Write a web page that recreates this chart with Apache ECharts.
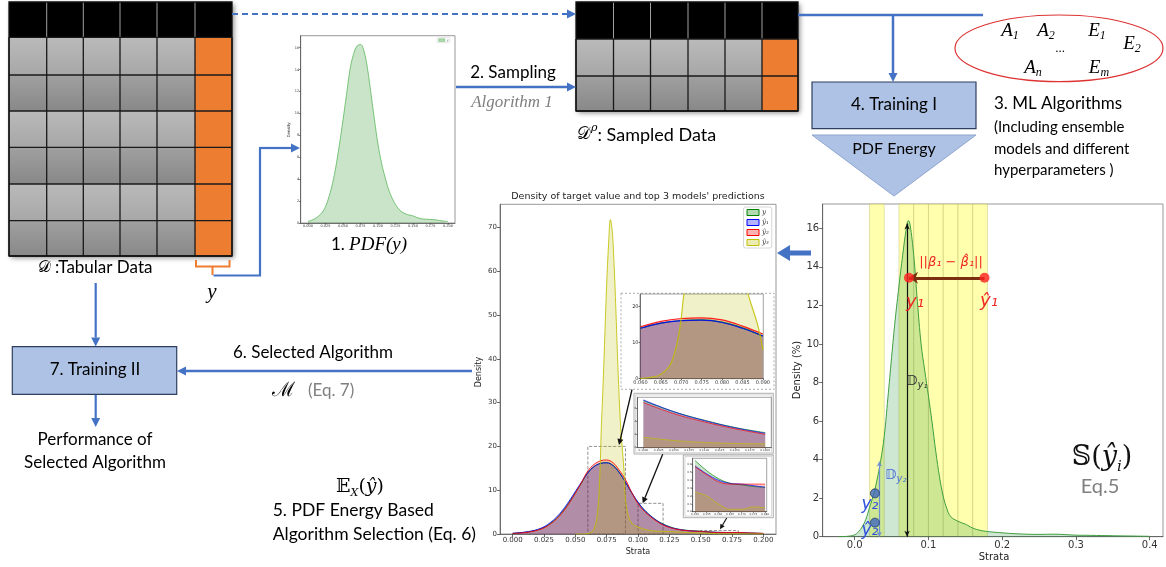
<!DOCTYPE html>
<html><head><meta charset="utf-8">
<script src="https://cdn.jsdelivr.net/npm/echarts@6/dist/echarts.min.js"></script>
<style>html,body{margin:0;padding:0;background:#fff}#c{width:1166px;height:567px}</style>
</head><body><div id="c"></div>
<script>
// ---------------- DATA ----------------
const strata = [0,0.005,0.01,0.015,0.02,0.025,0.03,0.035,0.04,0.045,0.05,0.055,0.06,0.065,0.07,0.075,0.08,0.085,0.09,0.095,0.1,0.105,0.11,0.115,0.12,0.125,0.13,0.135,0.14,0.145,0.15,0.155,0.16,0.165,0.17,0.175,0.18,0.185,0.19,0.195,0.2];
const densTarget = [0.15,0.25,0.4,0.62,0.95,1.5,2.4,3.6,5.2,7.2,9.4,11.7,14.0,15.4,16.15,16.3,15.7,14.1,11.8,9.4,7.2,5.5,4.2,3.1,2.3,1.7,1.25,0.98,0.82,0.72,0.65,0.52,0.42,0.36,0.34,0.32,0.31,0.26,0.21,0.17,0.13];
const densPred1 = [0.17,0.28,0.44,0.68,1.05,1.65,2.6,3.85,5.5,7.5,9.7,11.9,14.0,15.4,16.1,16.25,15.6,14.0,11.85,9.45,7.3,5.5,4.15,3.05,2.2,1.6,1.2,0.93,0.77,0.66,0.58,0.48,0.40,0.36,0.35,0.33,0.31,0.25,0.2,0.16,0.12];
const densPred2 = [0.12,0.2,0.34,0.55,0.88,1.4,2.25,3.45,5.0,7.0,9.3,11.8,14.4,15.9,16.7,16.9,16.3,14.6,12.4,9.5,6.9,5.2,3.95,2.9,2.05,1.5,1.12,0.88,0.74,0.64,0.57,0.47,0.38,0.35,0.35,0.35,0.35,0.28,0.22,0.17,0.13];
const strataPred3 = [0.05,0.055,0.06,0.0625,0.065,0.0675,0.0695,0.0707,0.072,0.0735,0.075,0.0765,0.078,0.0795,0.081,0.0825,0.084,0.0855,0.0865,0.0887,0.09,0.0925,0.095,0.0975,0.1,0.105,0.11,0.115,0.12,0.13,0.14,0.15,0.155,0.16,0.165,0.17,0.175,0.18,0.19,0.2];
const densPred3 = [0,0,0.1,0.4,1.2,4.3,13,24,33,45,57,66,71.8,69,61,50,38,28,23,15,8,4,2.5,1.9,1.6,1.1,0.8,0.65,0.6,0.5,0.35,0.25,0.2,0.1,0.03,0.03,0.06,0.05,0.03,0.02];
const sampleStrata = [-0.022,-0.01,0,0.005,0.01,0.015,0.02,0.025,0.03,0.035,0.04,0.045,0.05,0.055,0.06,0.065,0.07,0.0727,0.075,0.08,0.085,0.09,0.095,0.1,0.105,0.11,0.115,0.12,0.125,0.13,0.14,0.15,0.16,0.17,0.18,0.2,0.22,0.25,0.27,0.3,0.32,0.35,0.4];
const sampleDensity = [0,0.02,0.1,0.25,0.5,0.9,1.5,2.1,2.9,3.9,5.2,7.2,9.3,11.3,13.0,14.6,16.0,16.4,16.2,14.6,12.2,10.0,8.6,7.3,5.9,4.4,3.1,2.1,1.45,1.05,0.8,0.65,0.45,0.33,0.27,0.2,0.15,0.12,0.13,0.08,0.07,0.05,0.02];
const strataBins = [[0.02,0.04],[0.06,0.08],[0.08,0.10],[0.10,0.12],[0.12,0.14],[0.14,0.16],[0.16,0.18]];
const zoomBoxes = [[0.06,0.09,20],[0.10,0.12,7],[0.15,0.18,0.8]];
const y1True = [0.0735,13.43], y1Pred = [0.176,13.43];
const y2True = [0.0274,2.25], y2Pred = [0.0274,0.73];
const dY1 = [0.071,16.25], dY2 = [0.0334,3.9];
// tick labels
const ticksStrata = [0,0.025,0.05,0.075,0.1,0.125,0.15,0.175,0.2];
const ticksPdfY = [0,2,4,6,8,10,12,14,16];
const ticksMainY = [0,10,20,30,40,50,60,70];
const ticksIn1X = [0.06,0.065,0.07,0.075,0.08,0.085,0.09];
const ticksIn1Y = [0,10,20];
const ticksIn2X = [0.1,0.1025,0.105,0.1075,0.11,0.1125,0.115,0.1175,0.12];
const ticksIn2Y = [0,2,4,6];
const ticksIn3X = [0.15,0.155,0.16,0.165,0.17,0.175,0.18];
const ticksIn3Y = [0,0.1,0.2,0.3,0.4,0.5,0.6];
const ticksRightX = [0,0.1,0.2,0.3,0.4];
const ticksRightY = [0,2,4,6,8,10,12,14,16];
const legendNames = ['y','ŷ₁','ŷ₂','ŷ₃'];

// ---------------- helpers ----------------
const xy = (xs, ys) => xs.map((x,i)=>[x, ys[i]]);
const inRange = (pts, lo, hi) => pts.filter(p => p[0] >= lo-1e-9 && p[0] <= hi+1e-9);
const ptsY = xy(strata, densTarget), ptsP1 = xy(strata, densPred1), ptsP2 = xy(strata, densPred2), ptsP3 = xy(strataPred3, densPred3);
const COLORS = ['#008000','#0000ff','#ff0000','#bfbf00'];
const FILL = ['rgba(0,128,0,0.3)','rgba(0,0,255,0.3)','rgba(255,0,0,0.3)','rgba(191,191,0,0.3)'];
const blue = '#4472c4';

function axis(gi, min, max, ticks, fmt, fs, tl, zl) {
  return {
    type:'value', gridIndex:gi, min, max, zlevel: zl||0, z: 1,
    axisLine:{show:true, onZero:false, lineStyle:{color:'#555', width:0.8}},
    axisTick:{show:true, customValues:ticks, length:tl, lineStyle:{color:'#444', width:0.8}},
    axisLabel:{customValues:ticks, formatter:fmt, fontSize:fs, color:'#333', fontFamily:'DejaVu Sans', margin: Math.max(1, tl)},
    splitLine:{show:false}
  };
}
const f = d => v => Number(v).toFixed(d);

function curve(name, pts, k, gi, zl, lw) {
  return {type:'line', name, xAxisIndex:gi, yAxisIndex:gi, data:pts, smooth:0.4,
    symbol:'none', showSymbol:false, silent:true, zlevel: zl||0, z: 2, clip:true,
    lineStyle:{color:COLORS[k], width:lw||1, opacity:0.85}, itemStyle:{color:COLORS[k]},
    areaStyle:{color:FILL[k]}};
}
function arrowLine(gi, from, to, color, width, symbols, size) {
  return {type:'scatter', xAxisIndex:gi, yAxisIndex:gi, data:[], silent:true, z:6,
    markLine:{silent:true, symbol:symbols, symbolSize:size, animation:false, label:{show:false},
      emphasis:{disabled:true}, lineStyle:{color, width, type:'solid'}, data:[[{coord:from},{coord:to}]]}};
}
function T(x, y, text, o) {
  o = o || {};
  return {type:'text', x, y, rotation:o.rot||0, z:o.z||20, zlevel:o.zl||0, silent:true,
    style:{text, fill:o.color||'#000', fontSize:o.size||17, fontFamily:o.family||'Lato',
      fontStyle:o.italic?'italic':'normal', fontWeight:o.weight||'normal',
      align:o.align||'center', verticalAlign:o.va||'middle', textAlign:o.align||'center', textVerticalAlign:o.va||'middle',
      rich:o.rich}};
}
function arrow(x1,y1,x2,y2,o) {
  const a = Math.atan2(y2-y1, x2-x1), hl = o.head||9, hw = o.headW||4.5;
  const bx = x2-hl*Math.cos(a), by = y2-hl*Math.sin(a), px = -Math.sin(a)*hw, py = Math.cos(a)*hw;
  return [
    {type:'line', z:o.z||5, zlevel:o.zl||0, silent:true, shape:{x1,y1,x2:bx,y2:by}, style:{stroke:o.color, lineWidth:o.width||2, lineDash:o.dash||null}},
    {type:'polygon', z:o.z||5, zlevel:o.zl||0, silent:true, shape:{points:[[x2,y2],[bx+px,by+py],[bx-px,by-py]]}, style:{fill:o.color}}
  ];
}
function grad(c1, c2) { return {type:'linear', x:0, y:0, x2:0, y2:1, colorStops:[{offset:0,color:c1},{offset:1,color:c2}]}; }
function table(cols, rows) {
  const els = [];
  const x0 = cols[0], x1 = cols[cols.length-1], y0 = rows[0], y1 = rows[rows.length-1];
  els.push({type:'rect', z:1, silent:true, shape:{x:x0,y:y0,width:x1-x0,height:y1-y0}, style:{fill:'#000', shadowBlur:5, shadowColor:'rgba(0,0,0,0.45)', shadowOffsetX:2, shadowOffsetY:2}});
  for (let r = 1; r < rows.length-1; r++) {
    for (let c = 0; c < cols.length-1; c++) {
      const last = c === cols.length-2, light = r % 2 === 1;
      const fill = last ? '#ed7d31' : (light ? grad('#bababa','#a7a7a7') : grad('#a0a0a0','#888888'));
      els.push({type:'rect', z:2, silent:true, shape:{x:cols[c], y:rows[r], width:cols[c+1]-cols[c], height:rows[r+1]-rows[r]}, style:{fill}});
    }
  }
  for (let c = 1; c < cols.length-1; c++)
    els.push({type:'line', z:3, silent:true, shape:{x1:cols[c], y1:y0, x2:cols[c], y2:rows[1]}, style:{stroke:'#a0a0a0', lineWidth:1}});
  for (let r = 1; r < rows.length; r++)
    els.push({type:'line', z:3, silent:true, shape:{x1:x0, y1:rows[r], x2:x1, y2:rows[r]}, style:{stroke:'#1a1a1a', lineWidth:1.3}});
  for (let c = 0; c < cols.length; c++)
    els.push({type:'line', z:3, silent:true, shape:{x1:cols[c], y1:rows[1], x2:cols[c], y2:y1}, style:{stroke:'#1a1a1a', lineWidth:1.3}});
  els.push({type:'rect', z:4, silent:true, shape:{x:x0,y:y0,width:x1-x0,height:y1-y0}, style:{fill:null, stroke:'#111', lineWidth:1.3}});
  return els;
}

// ---------------- layout ----------------
const grids = [
  {left:300.7, top:35.7, width:154.3, height:187.3},   // 0 small pdf
  {left:500, top:204.3, width:276, height:329.7},      // 1 main density
  {left:640, top:294, width:123.3, height:84.7},       // 2 inset 1
  {left:637.3, top:397.3, width:134, height:50.4},     // 3 inset 2
  {left:692.7, top:458.3, width:74, height:53.4},      // 4 inset 3
  {left:822.7, top:204, width:340.3, height:332.7}     // 5 right
].map((g,i) => Object.assign({show:true, borderColor: i>=2&&i<=4 ? '#666' : '#999', borderWidth: i>=2&&i<=4 ? 0.6 : 1,
  backgroundColor:'transparent', containLabel:false, outerBoundsMode:'none', zlevel: (i>=2&&i<=4)?1:0, z:1}, g));

const xAxes = [
  axis(0, -0.0104, 0.21, ticksStrata, f(3), 3.5, 1.5),
  axis(1, -0.0101, 0.2101, ticksStrata, f(3), 7, 3),
  axis(2, 0.0599, 0.0901, ticksIn1X, f(3), 5, 1.5, 1),
  axis(3, 0.099, 0.121, ticksIn2X, f(4), 2.8, 1, 1),
  axis(4, 0.149, 0.1807, ticksIn3X, f(3), 2.8, 1, 1),
  axis(5, -0.0434, 0.418, ticksRightX, f(1), 10, 3.5)
];
const yAxes = [
  axis(0, 0, 17.1, ticksPdfY, f(0), 3.5, 1.5),
  axis(1, 0, 75.3, ticksMainY, f(0), 7, 3),
  axis(2, 0, 23.5, ticksIn1Y, f(0), 5, 1.5, 1),
  axis(3, 0, 7.7, ticksIn2Y, f(0), 2.8, 1, 1),
  axis(4, 0, 0.677, ticksIn3Y, f(1), 2.8, 1, 1),
  axis(5, 0, 17.26, ticksRightY, f(0), 10, 3.5)
];

const series = [];
// small pdf
series.push(Object.assign(curve('yPDF', ptsY, 0, 0, 0, 0.8), {lineStyle:{color:'#5cb85c', width:0.8}}));
// main chart
[ptsY, ptsP1, ptsP2, ptsP3].forEach((p,k) => series.push(curve(legendNames[k], p, k, 1)));
series.push({type:'scatter', xAxisIndex:1, yAxisIndex:1, data:[], silent:true, z:4,
  markArea:{silent:true, itemStyle:{color:'rgba(0,0,0,0)', borderColor:'#777', borderWidth:0.8, borderType:'dashed'},
    data: zoomBoxes.map(b => [{xAxis:b[0], yAxis:0},{xAxis:b[1], yAxis:b[2]}])}});
// insets
[[2,0.06,0.09],[3,0.1,0.12],[4,0.15,0.18]].forEach(([gi,lo,hi]) => {
  [ptsY, ptsP1, ptsP2, ptsP3].forEach((p,k) => series.push(curve(legendNames[k], inRange(p,lo,hi), k, gi, 1, gi===2?1.2:0.8)));
});
// right chart
series.push({type:'scatter', xAxisIndex:5, yAxisIndex:5, data:[], silent:true, z:1,
  markArea:{silent:true, itemStyle:{color:'rgba(255,255,120,0.6)', borderColor:'rgba(190,190,110,0.55)', borderWidth:0.8},
    data: strataBins.map(b => [{xAxis:b[0]},{xAxis:b[1]}])}});
series.push({type:'line', name:'sample', xAxisIndex:5, yAxisIndex:5, data:xy(sampleStrata, sampleDensity), smooth:0.4,
  symbol:'none', silent:true, z:3, lineStyle:{color:'#3f9f3f', width:1}, areaStyle:{color:'rgba(40,150,60,0.33)'}});
series.push(arrowLine(5, [dY1[0],0], dY1, '#111', 1.2, ['arrow','arrow'], [4,6]));
series.push(arrowLine(5, [dY2[0],0], dY2, '#6f8fd6', 1.2, ['arrow','arrow'], [4,5]));
series.push(arrowLine(5, y1Pred, y1True, '#7a3010', 3, ['none','arrow'], [9,9]));
series.push({type:'scatter', xAxisIndex:5, yAxisIndex:5, data:[y1True, y1Pred], symbolSize:10, silent:true, z:8, itemStyle:{color:'#ff2020'}});
series.push({type:'scatter', xAxisIndex:5, yAxisIndex:5, data:[y2True, y2Pred], symbolSize:9, silent:true, z:8, itemStyle:{color:'#3f68c0', borderColor:'#223a6a', borderWidth:1}});

// ---------------- graphics ----------------
const G = [];
G.push(...table([9,46.7,83.3,120,157,195,232], [2,37.3,75,111,147.3,184,220.7,256]));
G.push(...table([576,613.5,650.5,688,725,762,798], [2,39,76,111]));
// bracket & y path
G.push({type:'polyline', z:5, silent:true, shape:{points:[[196,260],[196,266.5],[229.5,266.5],[229.5,260]]}, style:{stroke:'#ed7d31', lineWidth:2, fill:null}});
G.push({type:'line', z:5, silent:true, shape:{x1:212.5,y1:266.5,x2:212.5,y2:275}, style:{stroke:'#ed7d31', lineWidth:2}});
G.push({type:'polyline', z:5, silent:true, shape:{points:[[213.5,275.5],[260,275.5],[260,148]]}, style:{stroke:blue, lineWidth:2.2, fill:null}});
G.push(...arrow(259, 148, 300, 148, {color:blue, width:2.2}));
// flow arrows
G.push(...arrow(232, 14, 576, 14, {color:blue, width:2, dash:[6,4]}));
G.push({type:'line', z:5, silent:true, shape:{x1:798,y1:15,x2:983,y2:15}, style:{stroke:blue, lineWidth:2.5}});
G.push(...arrow(893, 15, 893, 82, {color:blue, width:2.5}));
G.push(...arrow(456, 87, 576, 87, {color:blue, width:2.5}));
G.push(...arrow(95.7, 283, 95.7, 346.5, {color:blue, width:2.2}));
G.push(...arrow(95.7, 394.5, 95.7, 427, {color:blue, width:2.2}));
G.push(...arrow(472, 371, 177, 371, {color:blue, width:2.5}));
G.push(...arrow(811, 253, 777, 253, {color:blue, width:5, head:13, headW:8}));
// boxes
G.push({type:'rect', z:5, silent:true, shape:{x:812,y:82,width:164,height:46.6}, style:{fill:'#adc2e4', stroke:'#2f3f5f', lineWidth:1.2}});
G.push({type:'polygon', z:5, silent:true, shape:{points:[[812,135],[976,135],[894,196]]}, style:{fill:'#adc2e4', stroke:'#8ea5d0', lineWidth:1}});
G.push({type:'rect', z:5, silent:true, shape:{x:12.3,y:346.7,width:164.4,height:47.6}, style:{fill:'#adc2e4', stroke:'#2f3f5f', lineWidth:1.2}});
G.push({type:'ellipse', z:5, silent:true, shape:{cx:1059, cy:48.3, rx:104, ry:33.3}, style:{fill:null, stroke:'#d33', lineWidth:1.2}});
// ellipse texts
const mathRich = {a:{fontFamily:'Liberation Serif', fontStyle:'italic', fontSize:19, lineHeight:22, verticalAlign:'middle'},
                  s:{fontFamily:'Liberation Serif', fontStyle:'italic', fontSize:12, lineHeight:12, verticalAlign:'bottom'}};
[['A','1',1010,31],['A','2',1046,31],['E','1',1097,31],['E','2',1132,44],['A','n',1033,68],['E','m',1099,68]].forEach(([c,s,x,y]) =>
  G.push(T(x, y, `{a|${c}}{s|${s}}`, {rich:mathRich, family:'Liberation Serif'})));
G.push(T(1060, 49, '...', {size:13, family:'Liberation Serif'}));
// texts
G.push(T(894, 105, '4. Training I', {size:17}));
G.push(T(894, 149, 'PDF Energy', {size:16}));
G.push(T(994, 104, '3. ML Algorithms', {size:17, align:'left'}));
G.push(T(994, 127, '(Including ensemble', {size:15, align:'left'}));
G.push(T(994, 149, 'models and different', {size:15, align:'left'}));
G.push(T(994, 170, 'hyperparameters )', {size:15, align:'left'}));
G.push(T(513, 73, '2. Sampling', {size:17}));
G.push(T(512, 103, 'Algorithm 1', {size:17, italic:true, family:'Liberation Serif', color:'#7f7f7f'}));
G.push(T(369, 245, '{n|1. }{m|PDF(y)}', {rich:{n:{fontFamily:'Lato', fontSize:17, verticalAlign:'middle'}, m:{fontFamily:'Liberation Serif', fontStyle:'italic', fontSize:19, verticalAlign:'middle'}}}));
G.push(T(95, 268, '{d|𝒟} {n|:Tabular Data}', {rich:{d:{fontFamily:'DejaVu Serif', fontSize:16, verticalAlign:'middle'}, n:{fontFamily:'Lato', fontSize:17, verticalAlign:'middle'}}}));
G.push(T(212, 292, 'y', {size:21, italic:true, family:'Liberation Serif'}));
G.push(T(577, 135, '{d|𝒟}{p|ρ}{n|: Sampled Data}', {align:'left', rich:{d:{fontFamily:'DejaVu Serif', fontSize:17, lineHeight:24, verticalAlign:'middle'}, p:{fontFamily:'DejaVu Serif', fontStyle:'italic', fontSize:11, lineHeight:12, verticalAlign:'top'}, n:{fontFamily:'Lato', fontSize:18, lineHeight:24, verticalAlign:'middle'}}}));
G.push(T(95, 370, '7. Training II', {size:17}));
G.push(T(313, 353, '6. Selected Algorithm', {size:17}));
G.push(T(313, 391, '{m|ℳ}{n|   (Eq. 7)}', {rich:{m:{fontFamily:'DejaVu Serif', fontSize:20, verticalAlign:'middle', fill:'#000'}, n:{fontFamily:'Lato', fontSize:17, verticalAlign:'middle', fill:'#808080'}}}));
G.push(T(95, 440, 'Performance of', {size:17}));
G.push(T(95, 463, 'Selected Algorithm', {size:17}));
G.push(T(360, 487, '{e|𝔼}{s|X}{e|(}{i|ŷ}{e|)}', {rich:{e:{fontFamily:'DejaVu Serif', fontSize:19, lineHeight:24, verticalAlign:'middle'}, i:{fontFamily:'DejaVu Serif', fontStyle:'italic', fontSize:19, lineHeight:24, verticalAlign:'middle'}, s:{fontFamily:'DejaVu Serif', fontStyle:'italic', fontSize:11, lineHeight:12, verticalAlign:'bottom'}}}));
G.push(T(272.7, 510.7, '5. PDF Energy Based', {size:17.5, align:'left'}));
G.push(T(272.7, 534, 'Algorithm Selection (Eq. 6)', {size:17.5, align:'left'}));
// chart texts
G.push(T(638, 197, "Density of target value and top 3 models' predictions", {size:9.5, family:'DejaVu Sans', color:'#222'}));
G.push(T(479, 372, 'Density', {size:8, family:'DejaVu Sans', rot:Math.PI/2, color:'#222'}));
G.push(T(638, 552, 'Strata', {size:8, family:'DejaVu Sans', color:'#222'}));
G.push(T(289, 130, 'Density', {size:4, family:'DejaVu Sans', rot:Math.PI/2, color:'#222'}));
G.push(T(797, 370, 'Density (%)', {size:10, family:'DejaVu Sans', rot:Math.PI/2, color:'#222'}));
G.push(T(994, 557, 'Strata', {size:10, family:'DejaVu Sans', color:'#222'}));
// right chart annotations
G.push(T(951, 263, '||β₁ − β̂₁||', {size:13, family:'DejaVu Sans', italic:true, color:'#f02828'}));
G.push(T(915, 302, 'y₁', {size:18, family:'DejaVu Sans', italic:true, color:'#f02828'}));
G.push(T(989, 301, 'ŷ₁', {size:18, family:'DejaVu Sans', italic:true, color:'#f02828'}));
G.push(T(906, 381, '{d|𝔻}{s|y₁}', {align:'left', rich:{d:{fontFamily:'DejaVu Sans', fontSize:14, lineHeight:18, verticalAlign:'middle', fill:'#333'}, s:{fontFamily:'DejaVu Sans', fontStyle:'italic', fontSize:10, lineHeight:10, verticalAlign:'bottom', fill:'#333'}}}));
G.push(T(885, 475, '{d|𝔻}{s|y₂}', {align:'left', rich:{d:{fontFamily:'DejaVu Sans', fontSize:14, lineHeight:18, verticalAlign:'middle', fill:'#4a6fd8'}, s:{fontFamily:'DejaVu Sans', fontStyle:'italic', fontSize:10, lineHeight:10, verticalAlign:'bottom', fill:'#4a6fd8'}}}));
G.push(T(870, 505, 'y₂', {size:17, family:'DejaVu Sans', italic:true, color:'#3050e0'}));
G.push(T(870, 531, 'ŷ₂', {size:17, family:'DejaVu Sans', italic:true, color:'#3050e0'}));
G.push(T(1102, 458, '{a|𝕊(}{i|ŷ}{s|i}{a|)}', {rich:{a:{fontFamily:'DejaVu Serif', fontSize:27, lineHeight:34, verticalAlign:'middle', fill:'#111'}, i:{fontFamily:'DejaVu Serif', fontStyle:'italic', fontSize:27, lineHeight:34, verticalAlign:'middle', fill:'#111'}, s:{fontFamily:'DejaVu Serif', fontStyle:'italic', fontSize:15, lineHeight:16, verticalAlign:'bottom', fill:'#111'}}}));
G.push(T(1100, 487, 'Eq.5', {size:20, color:'#808080'}));
// inset frames (above main chart, below inset plots)
G.push({type:'rect', zlevel:1, z:-1, silent:true, shape:{x:621,y:293.3,width:153,height:96}, style:{fill:'#fff', stroke:'#999', lineWidth:0.8, lineDash:[2,2]}});
G.push({type:'rect', zlevel:1, z:-1, silent:true, shape:{x:634,y:393.3,width:139.3,height:60.7}, style:{fill:'#fff', stroke:'#999', lineWidth:0.8}});
G.push({type:'rect', zlevel:1, z:-1, silent:true, shape:{x:635.6,y:394.9,width:136.1,height:57.5}, style:{fill:null, stroke:'#bbb', lineWidth:0.6}});
G.push({type:'rect', zlevel:1, z:-1, silent:true, shape:{x:683.3,y:455,width:90,height:62.7}, style:{fill:'#fff', stroke:'#999', lineWidth:0.8}});
G.push({type:'rect', zlevel:1, z:-1, silent:true, shape:{x:684.9,y:456.6,width:86.8,height:59.5}, style:{fill:null, stroke:'#bbb', lineWidth:0.6}});
G.push(...arrow(632, 389.5, 619, 445, {color:'#111', width:1.3, head:6, headW:3, zl:1, z:10}));
G.push(...arrow(662.7, 454.3, 642.7, 503.3, {color:'#111', width:1.3, head:6, headW:3, zl:1, z:10}));
G.push(...arrow(726.7, 518, 720, 529.3, {color:'#111', width:1.1, head:5, headW:2.5, zl:1, z:10}));

const legends = [
  {left:437, top:37.6, orient:'vertical', itemWidth:6, itemHeight:2.6, padding:[1,1.5], itemGap:1,
   backgroundColor:'#fff', borderColor:'#ccc', borderWidth:0.5, borderRadius:1,
   textStyle:{fontSize:3, fontFamily:'DejaVu Serif', fontStyle:'italic', color:'#333', padding:[0,0,0,-3]},
   formatter:()=> 'y', selectedMode:false,
   data:[{name:'yPDF', icon:'rect', itemStyle:{color:FILL[0], borderColor:'#5cb85c', borderWidth:0.5}}]},
  {left:743.5, top:207, orient:'vertical', itemWidth:12, itemHeight:6, padding:[2,3], itemGap:3,
   backgroundColor:'#fff', borderColor:'#ccc', borderWidth:0.8, borderRadius:2, selectedMode:false,
   textStyle:{fontSize:7, fontFamily:'DejaVu Serif', fontStyle:'italic', color:'#333', padding:[0,0,0,-2]},
   data: legendNames.map((n,k) => ({name:n, icon:'rect', itemStyle:{color:FILL[k], borderColor:COLORS[k], borderWidth:1}}))}
];

const option = {animation:false, backgroundColor:'#fff', grid:grids, xAxis:xAxes, yAxis:yAxes, legend:legends, series, graphic:{elements:G}};
const chart = echarts.init(document.getElementById('c'), null, {renderer:'canvas'});
chart.setOption(option);
</script></body></html>
